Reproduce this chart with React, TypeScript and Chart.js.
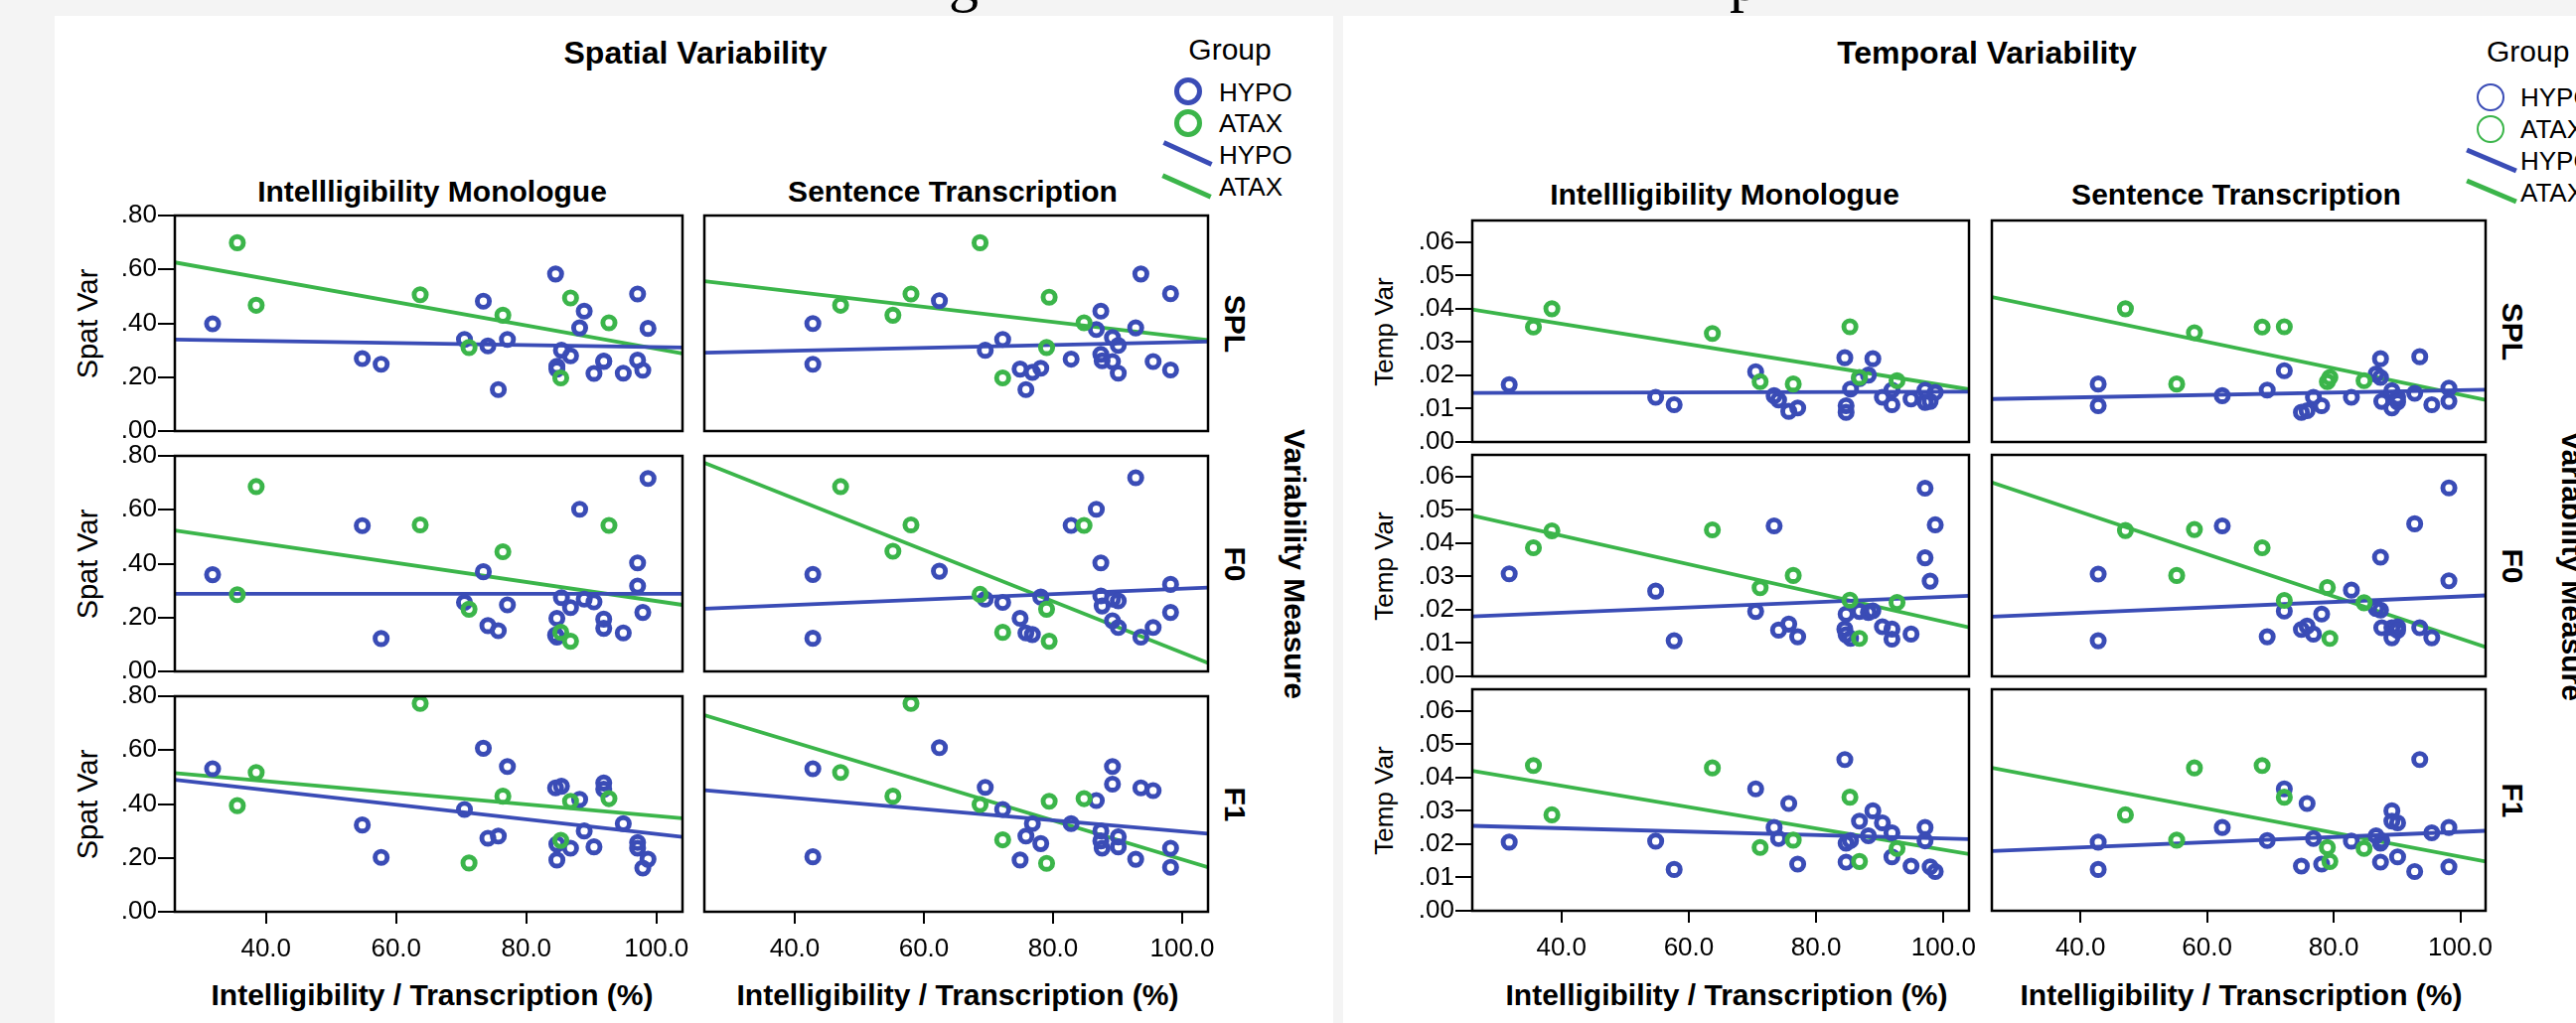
import React, { useEffect, useRef } from 'react';
import { Chart, registerables } from 'chart.js';

Chart.register(...registerables);

// ---------------- data ----------------
const xTicks = [40, 60, 80, 100];
const spatTicks = [0, 0.2, 0.4, 0.6, 0.8];
const tempTicks = [0, 0.01, 0.02, 0.03, 0.04, 0.05, 0.06];
const xMin = 26;
const xMax = 104;
const spatMax = 0.8;
const tempMax = 0.0665;

const columnTitles = ['Intellligibility Monologue', 'Sentence Transcription'];
const measureLabels = ['SPL', 'F0', 'F1'];
const groupLabels = ['HYPO', 'ATAX'];

// x values (Intelligibility monologue / Sentence transcription, %)
const hypoIntelX = [31.8, 54.8, 57.7, 70.5, 73.4, 74.1, 75.7, 77.1, 84.5, 84.7, 84.7, 85.4, 86.8, 88.2, 88.9, 90.4, 91.9, 91.9, 94.9, 97.1, 97.1, 97.9, 98.7];
const hypoTransX = [42.8, 42.8, 62.4, 69.5, 72.2, 74.9, 75.8, 76.8, 78.1, 82.8, 86.7, 87.4, 87.4, 87.6, 89.2, 89.2, 90.1, 90.1, 92.8, 93.6, 95.5, 98.2, 98.2];
const ataxIntelX = [35.6, 38.5, 63.7, 71.2, 76.4, 85.3, 86.8, 92.7];
const ataxTransX = [47.1, 55.2, 58.0, 68.7, 72.2, 79.0, 79.4, 84.8];

// Spatial variability - HYPO
const spatSplHypoIntel = [0.398, 0.269, 0.248, 0.340, 0.482, 0.316, 0.154, 0.340, 0.583, 0.230, 0.240, 0.300, 0.279, 0.383, 0.445, 0.214, 0.258, 0.260, 0.215, 0.509, 0.263, 0.226, 0.381];
const spatF0HypoIntel = [0.359, 0.541, 0.122, 0.256, 0.370, 0.170, 0.151, 0.247, 0.135, 0.197, 0.127, 0.274, 0.237, 0.602, 0.268, 0.258, 0.194, 0.160, 0.143, 0.403, 0.317, 0.219, 0.716];
const spatF1HypoIntel = [0.531, 0.322, 0.202, 0.380, 0.607, 0.273, 0.281, 0.539, 0.460, 0.192, 0.251, 0.466, 0.236, 0.417, 0.300, 0.241, 0.478, 0.455, 0.327, 0.257, 0.236, 0.162, 0.195];
const spatSplHypoTrans = [0.399, 0.248, 0.484, 0.300, 0.340, 0.230, 0.154, 0.218, 0.233, 0.267, 0.377, 0.445, 0.285, 0.261, 0.347, 0.258, 0.318, 0.215, 0.383, 0.583, 0.258, 0.510, 0.227];
const spatF0HypoTrans = [0.360, 0.123, 0.372, 0.268, 0.256, 0.197, 0.143, 0.137, 0.276, 0.542, 0.602, 0.403, 0.280, 0.243, 0.268, 0.188, 0.262, 0.163, 0.719, 0.127, 0.163, 0.323, 0.219];
const spatF1HypoTrans = [0.531, 0.204, 0.609, 0.462, 0.380, 0.192, 0.281, 0.327, 0.253, 0.327, 0.413, 0.300, 0.263, 0.236, 0.539, 0.474, 0.278, 0.241, 0.195, 0.460, 0.450, 0.236, 0.165];

// Spatial variability - ATAX
const spatSplAtaxIntel = [0.699, 0.467, 0.506, 0.310, 0.430, 0.197, 0.494, 0.402];
const spatF0AtaxIntel = [0.285, 0.686, 0.544, 0.231, 0.444, 0.145, 0.112, 0.542];
const spatF1AtaxIntel = [0.394, 0.517, 0.773, 0.181, 0.429, 0.265, 0.410, 0.420];
const spatSplAtaxTrans = [0.467, 0.430, 0.509, 0.699, 0.197, 0.310, 0.497, 0.402];
const spatF0AtaxTrans = [0.686, 0.446, 0.544, 0.286, 0.145, 0.231, 0.112, 0.542];
const spatF1AtaxTrans = [0.517, 0.429, 0.773, 0.398, 0.267, 0.180, 0.410, 0.420];

// Temporal variability - HYPO
const tempSplHypoIntel = [0.0172, 0.0134, 0.0112, 0.0211, 0.0139, 0.0126, 0.0092, 0.0102, 0.0253, 0.0109, 0.0089, 0.0159, 0.0190, 0.0201, 0.0250, 0.0134, 0.0112, 0.0156, 0.0129, 0.0156, 0.0119, 0.0122, 0.0149];
const tempF0HypoIntel = [0.0308, 0.0256, 0.0107, 0.0195, 0.0452, 0.0139, 0.0157, 0.0119, 0.0142, 0.0187, 0.0125, 0.0114, 0.0195, 0.0192, 0.0197, 0.0149, 0.0142, 0.0112, 0.0127, 0.0565, 0.0356, 0.0286, 0.0455];
const tempF1HypoIntel = [0.0206, 0.0209, 0.0124, 0.0366, 0.0250, 0.0217, 0.0322, 0.0140, 0.0454, 0.0146, 0.0203, 0.0211, 0.0269, 0.0225, 0.0300, 0.0264, 0.0162, 0.0234, 0.0134, 0.0250, 0.0210, 0.0132, 0.0118];
const tempSplHypoTrans = [0.0174, 0.0109, 0.0139, 0.0156, 0.0214, 0.0089, 0.0094, 0.0134, 0.0109, 0.0134, 0.0204, 0.0250, 0.0194, 0.0122, 0.0154, 0.0102, 0.0134, 0.0120, 0.0146, 0.0256, 0.0112, 0.0162, 0.0122];
const tempF0HypoTrans = [0.0307, 0.0107, 0.0452, 0.0119, 0.0196, 0.0141, 0.0151, 0.0127, 0.0187, 0.0259, 0.0204, 0.0358, 0.0199, 0.0146, 0.0146, 0.0116, 0.0149, 0.0138, 0.0458, 0.0146, 0.0116, 0.0566, 0.0287];
const tempF1HypoTrans = [0.0206, 0.0124, 0.0250, 0.0211, 0.0366, 0.0134, 0.0322, 0.0217, 0.0140, 0.0209, 0.0225, 0.0203, 0.0146, 0.0210, 0.0300, 0.0269, 0.0264, 0.0162, 0.0118, 0.0454, 0.0234, 0.0250, 0.0132];

// Temporal variability - ATAX
const tempSplAtaxIntel = [0.0345, 0.0400, 0.0326, 0.0181, 0.0174, 0.0346, 0.0194, 0.0184];
const tempF0AtaxIntel = [0.0386, 0.0437, 0.0440, 0.0266, 0.0303, 0.0229, 0.0114, 0.0222];
const tempF1AtaxIntel = [0.0436, 0.0288, 0.0429, 0.0190, 0.0212, 0.0341, 0.0148, 0.0187];
const tempSplAtaxTrans = [0.0400, 0.0174, 0.0328, 0.0345, 0.0346, 0.0181, 0.0194, 0.0184];
const tempF0AtaxTrans = [0.0438, 0.0303, 0.0441, 0.0386, 0.0228, 0.0267, 0.0114, 0.0221];
const tempF1AtaxTrans = [0.0288, 0.0212, 0.0429, 0.0436, 0.0341, 0.0190, 0.0148, 0.0187];

// Linear fit lines: value at x = xMin and x = xMax, per row (SPL, F0, F1)
const fitSpatIntelHypo = [[0.340, 0.310], [0.288, 0.288], [0.490, 0.278]];
const fitSpatIntelAtax = [[0.626, 0.288], [0.523, 0.247], [0.515, 0.347]];
const fitSpatTransHypo = [[0.291, 0.332], [0.233, 0.311], [0.451, 0.290]];
const fitSpatTransAtax = [[0.556, 0.338], [0.774, 0.031], [0.730, 0.165]];
const fitTempIntelHypo = [[0.0147, 0.0151], [0.0180, 0.0242], [0.0255, 0.0215]];
const fitTempIntelAtax = [[0.0398, 0.0158], [0.0483, 0.0147], [0.0420, 0.0170]];
const fitTempTransHypo = [[0.0129, 0.0157], [0.0179, 0.0243], [0.0179, 0.0240]];
const fitTempTransAtax = [[0.0435, 0.0126], [0.0582, 0.0088], [0.0429, 0.0148]];

// ---------------- style ----------------
const BLUE = '#3a4cb6';
const GREEN = '#3bb54a';
const FONT = '"Liberation Sans", Arial, Helvetica, sans-serif';

type Sub = {
  left: number; top: number; w: number; h: number;
  showX: boolean; showY: boolean;
  yTicks: number[]; yMax: number; tickSize: number;
  hx: number[]; hy: number[]; ax: number[]; ay: number[];
  hFit: number[]; aFit: number[];
};

const framePlugin = {
  id: 'frame',
  afterDraw(chart: any) {
    const { ctx, chartArea: a } = chart;
    ctx.save();
    ctx.strokeStyle = '#000';
    ctx.lineWidth = 2.5;
    ctx.strokeRect(a.left, a.top, a.right - a.left, a.bottom - a.top);
    ctx.restore();
  },
};

const pts = (xs: number[], ys: number[]) => xs.map((x, i) => ({ x, y: ys[i] }));

function SubChart({ s }: { s: Sub }) {
  const ref = useRef<HTMLCanvasElement | null>(null);
  const yAxisW = s.showY ? 100 : 0;
  const padL = s.showY ? 0 : 6;
  const padT = 24;
  const padR = 44;
  const xAxisH = s.showX ? 70 : 0;
  const padB = s.showX ? 6 : 24;
  const cw = yAxisW + padL + s.w + padR;
  const ch = padT + s.h + xAxisH + padB;
  const cl = s.left - yAxisW - padL;
  const ct = s.top - padT;

  useEffect(() => {
    const font = { family: FONT, size: s.tickSize };
    const chart = new Chart(ref.current as HTMLCanvasElement, {
      type: 'scatter',
      data: {
        datasets: [
          {
            label: 'HYPO', data: pts(s.hx, s.hy), showLine: false, order: 1,
            pointStyle: 'circle', pointRadius: 6.1, pointBorderWidth: 4.9,
            pointBorderColor: BLUE, pointBackgroundColor: 'rgba(0,0,0,0)', borderColor: BLUE,
          },
          {
            label: 'ATAX', data: pts(s.ax, s.ay), showLine: false, order: 0,
            pointStyle: 'circle', pointRadius: 6.1, pointBorderWidth: 4.9,
            pointBorderColor: GREEN, pointBackgroundColor: 'rgba(0,0,0,0)', borderColor: GREEN,
          },
          {
            type: 'line', label: 'HYPO fit', order: 2,
            data: [{ x: xMin, y: s.hFit[0] }, { x: xMax, y: s.hFit[1] }],
            borderColor: BLUE, borderWidth: 3.8, pointRadius: 0, fill: false, tension: 0,
          } as any,
          {
            type: 'line', label: 'ATAX fit', order: 3,
            data: [{ x: xMin, y: s.aFit[0] }, { x: xMax, y: s.aFit[1] }],
            borderColor: GREEN, borderWidth: 3.8, pointRadius: 0, fill: false, tension: 0,
          } as any,
        ],
      },
      options: {
        animation: false,
        responsive: false,
        maintainAspectRatio: false,
        events: [],
        layout: { padding: { left: padL, right: padR, top: padT, bottom: padB } },
        plugins: { legend: { display: false }, tooltip: { enabled: false } },
        scales: {
          x: {
            type: 'linear', min: xMin, max: xMax, display: s.showX,
            afterBuildTicks: (sc: any) => { sc.ticks = xTicks.map((v) => ({ value: v })); },
            afterFit: (sc: any) => { if (s.showX) sc.height = xAxisH; },
            ticks: {
              font, color: '#000', padding: 10, autoSkip: false, maxRotation: 0,
              callback: (v: any) => Number(v).toFixed(1),
            },
            grid: { drawOnChartArea: false, drawTicks: true, tickLength: 12, color: '#000', lineWidth: 2 },
            border: { display: false },
          },
          y: {
            type: 'linear', min: 0, max: s.yMax, display: s.showY,
            afterBuildTicks: (sc: any) => { sc.ticks = s.yTicks.map((v) => ({ value: v })); },
            afterFit: (sc: any) => { if (s.showY) sc.width = yAxisW; },
            ticks: {
              font, color: '#000', padding: 1, autoSkip: false,
              callback: (v: any) => Number(v).toFixed(2).replace(/^0/, ''),
            },
            grid: { drawOnChartArea: false, drawTicks: true, tickLength: 17, color: '#000', lineWidth: 2 },
            border: { display: false },
          },
        },
      } as any,
      plugins: [framePlugin],
    });
    return () => chart.destroy();
  }, []);

  return (
    <canvas
      ref={ref}
      width={cw}
      height={ch}
      style={{ position: 'absolute', left: cl, top: ct, width: cw, height: ch }}
    />
  );
}

type TextProps = {
  x: number; y: number; text: string; size: number; bold?: boolean; rotate?: number;
  align?: 'center' | 'left'; family?: string;
};
function T({ x, y, text, size, bold, rotate = 0, align = 'center', family = FONT }: TextProps) {
  const tx = align === 'center' ? '-50%' : '0';
  return (
    <div
      style={{
        position: 'absolute', left: x, top: y, whiteSpace: 'nowrap', lineHeight: 1,
        fontFamily: family, fontSize: size, fontWeight: bold ? 700 : 400, color: '#000',
        transform: `translate(${tx},-50%) rotate(${rotate}deg)`,
      }}
    >
      {text}
    </div>
  );
}

function LegendCircle({ x, y, color, bw }: { x: number; y: number; color: string; bw: number }) {
  return (
    <div
      style={{
        position: 'absolute', left: x - 14, top: y - 14, width: 28, height: 28,
        boxSizing: 'border-box', border: `${bw}px solid ${color}`, borderRadius: '50%',
      }}
    />
  );
}

function LegendLine({ x, y, color, len, angle }: { x: number; y: number; color: string; len: number; angle: number }) {
  return (
    <div
      style={{
        position: 'absolute', left: x - len / 2, top: y - 2.5, width: len, height: 5,
        background: color, transform: `rotate(${angle}deg)`,
      }}
    />
  );
}

const panels = [
  {
    title: 'Spatial Variability', titleX: 700, yTitle: 'Spat Var', yTitleX: 88, yTitleSize: 29,
    yTicks: spatTicks, yMax: spatMax, tickSize: 26,
    colLeft: [176, 704], colW: [511, 512], rowTop: [217, 459, 701], rowH: 217,
    colTitleX: [435, 959], colTitleY: 192.5, xTitleX: [435, 964], xTitleY: 1001.5,
    rowLabelX: 1243, measureX: 1303,
    hypo: [[spatSplHypoIntel, spatSplHypoTrans], [spatF0HypoIntel, spatF0HypoTrans], [spatF1HypoIntel, spatF1HypoTrans]],
    atax: [[spatSplAtaxIntel, spatSplAtaxTrans], [spatF0AtaxIntel, spatF0AtaxTrans], [spatF1AtaxIntel, spatF1AtaxTrans]],
    hFit: [fitSpatIntelHypo, fitSpatTransHypo], aFit: [fitSpatIntelAtax, fitSpatTransAtax],
  },
  {
    title: 'Temporal Variability', titleX: 2000, yTitle: 'Temp Var', yTitleX: 1393, yTitleSize: 26,
    yTicks: tempTicks, yMax: tempMax, tickSize: 26,
    colLeft: [1482, 2000], colW: [500, 502], rowTop: [222, 458, 694], rowH: 223,
    colTitleX: [1736, 2251], colTitleY: 196, xTitleX: [1738, 2256], xTitleY: 1002,
    rowLabelX: 2529, measureX: 2589,
    hypo: [[tempSplHypoIntel, tempSplHypoTrans], [tempF0HypoIntel, tempF0HypoTrans], [tempF1HypoIntel, tempF1HypoTrans]],
    atax: [[tempSplAtaxIntel, tempSplAtaxTrans], [tempF0AtaxIntel, tempF0AtaxTrans], [tempF1AtaxIntel, tempF1AtaxTrans]],
    hFit: [fitTempIntelHypo, fitTempTransHypo], aFit: [fitTempIntelAtax, fitTempTransAtax],
  },
];

const hypoX = [hypoIntelX, hypoTransX];
const ataxX = [ataxIntelX, ataxTransX];

export default function App() {
  const subs: Sub[] = [];
  panels.forEach((p) => {
    for (let r = 0; r < 3; r++) {
      for (let c = 0; c < 2; c++) {
        subs.push({
          left: p.colLeft[c], top: p.rowTop[r], w: p.colW[c], h: p.rowH,
          showX: r === 2, showY: c === 0, yTicks: p.yTicks, yMax: p.yMax, tickSize: p.tickSize,
          hx: hypoX[c], hy: p.hypo[r][c], ax: ataxX[c], ay: p.atax[r][c],
          hFit: p.hFit[c][r], aFit: p.aFit[c][r],
        });
      }
    }
  });

  return (
    <div
      style={{
        position: 'fixed', left: 0, top: 0, width: 2593, height: 1030, overflow: 'hidden',
        background: '#f4f4f4', fontFamily: FONT,
      }}
    >
      {/* remnants of the document heading above the figure */}
      <T x={970} y={-20} text="g" size={60} family={'"Liberation Serif", "DejaVu Serif", serif'} />
      <T x={1756} y={-20} text="p" size={60} family={'"Liberation Serif", "DejaVu Serif", serif'} />

      <div style={{ position: 'absolute', left: 55, top: 16, width: 1287, height: 1014, background: '#fff' }} />
      <div style={{ position: 'absolute', left: 1352, top: 16, width: 1241, height: 1014, background: '#fff' }} />

      {panels.map((p, pi) => (
        <React.Fragment key={pi}>
          <T x={p.titleX} y={52.5} text={p.title} size={32} bold />
          {columnTitles.map((ct, c) => (
            <T key={'ct' + c} x={p.colTitleX[c]} y={p.colTitleY} text={ct} size={30} bold />
          ))}
          {measureLabels.map((m, r) => (
            <React.Fragment key={'m' + r}>
              <T x={p.yTitleX} y={p.rowTop[r] + p.rowH / 2} text={p.yTitle} size={p.yTitleSize} rotate={-90} />
              <T x={p.rowLabelX} y={p.rowTop[r] + p.rowH / 2} text={m} size={30} bold rotate={90} />
            </React.Fragment>
          ))}
          <T x={p.measureX} y={(p.rowTop[0] + p.rowTop[2] + p.rowH) / 2} text="Variability Measure" size={30} bold rotate={90} />
          {[0, 1].map((c) => (
            <T key={'xt' + c} x={p.xTitleX[c]} y={p.xTitleY} text="Intelligibility / Transcription (%)" size={30} bold />
          ))}
        </React.Fragment>
      ))}

      {/* legend: spatial panel */}
      <T x={1238} y={50} text="Group" size={30} />
      <LegendCircle x={1196} y={92} color={BLUE} bw={5.5} />
      <LegendCircle x={1196} y={124} color={GREEN} bw={5.5} />
      <T x={1227} y={93} text={groupLabels[0]} size={26} align="left" />
      <T x={1227} y={124} text={groupLabels[1]} size={26} align="left" />
      <LegendLine x={1195} y={154} color={BLUE} len={53} angle={24.6} />
      <LegendLine x={1194.5} y={187} color={GREEN} len={53} angle={24} />
      <T x={1227} y={156} text={groupLabels[0]} size={26} align="left" />
      <T x={1227} y={188} text={groupLabels[1]} size={26} align="left" />

      {/* legend: temporal panel */}
      <T x={2503} y={52} text="Group" size={30} align="left" />
      <LegendCircle x={2507} y={98} color={BLUE} bw={2} />
      <LegendCircle x={2507} y={130} color={GREEN} bw={2} />
      <T x={2537} y={98} text={groupLabels[0]} size={26} align="left" />
      <T x={2537} y={130} text={groupLabels[1]} size={26} align="left" />
      <LegendLine x={2508} y={161.5} color={BLUE} len={54} angle={22.8} />
      <LegendLine x={2508} y={192.5} color={GREEN} len={54} angle={22.8} />
      <T x={2537} y={162} text={groupLabels[0]} size={26} align="left" />
      <T x={2537} y={194} text={groupLabels[1]} size={26} align="left" />

      {subs.map((s, i) => (
        <SubChart key={i} s={s} />
      ))}
    </div>
  );
}
